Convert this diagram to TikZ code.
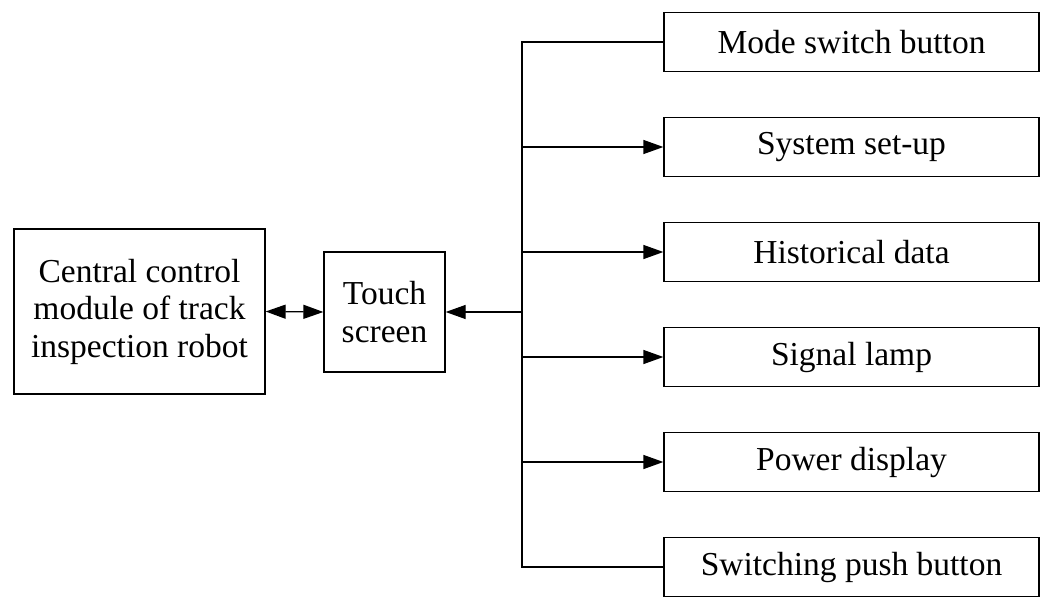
\documentclass[tikz,border=0pt]{standalone}
\usepackage{fontspec}
\setmainfont{Liberation Serif}
\usetikzlibrary{arrows.meta}
\begin{document}
\begin{tikzpicture}[x=1pt,y=-1pt,
  box/.style={draw, line width=1.3pt, minimum width=375pt, minimum height=59pt,
    inner sep=0pt, align=center, font=\fontsize{33.5}{37.5}\selectfont},
  link/.style={line width=1.3pt},
  tip/.style={-{Triangle[length=20pt,width=14pt]}}]
\useasboundingbox (0,0) rectangle (1049,597);

% left-hand blocks
\node[box, minimum width=251pt, minimum height=165pt] (cc) at (139.5,311.5)
  {Central control\\module of track\\inspection robot};
\node[box, minimum width=121pt, minimum height=120pt] (ts) at (384.5,312)
  {Touch\\screen};

% right-hand column of functions
\node[box] (m1) at (851.5,42)  {Mode switch button};
\node[box] (m2) at (851.5,147) {System set-up};
\node[box] (m3) at (851.5,252) {Historical data};
\node[box] (m4) at (851.5,357) {Signal lamp};
\node[box] (m5) at (851.5,462) {Power display};
\node[box] (m6) at (851.5,567) {Switching push button};

% vertical bus
\coordinate (bt) at (522,42);
\coordinate (bb) at (522,567);
\coordinate (bm) at (522,312);
\draw[link] (m1.west) -- (bt) -- (bb) -- (m6.west);
\foreach \n in {m2,m3,m4,m5}
  \draw[link,tip] (\n.west -| bt) -- (\n.west);
\draw[link,tip] (bm) -- (ts.east);

% bidirectional link
\draw[link,{Triangle[length=20pt,width=14pt]}-{Triangle[length=20pt,width=14pt]}] (cc.east) -- (ts.west);
\end{tikzpicture}
\end{document}
